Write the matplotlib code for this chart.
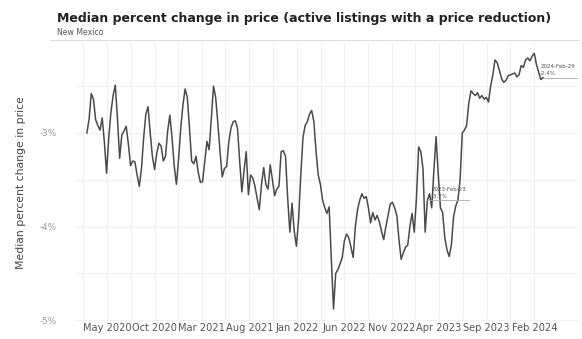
import numpy as np
import pandas as pd
import matplotlib
matplotlib.use("Agg")
import matplotlib.pyplot as plt
import matplotlib.dates as mdates
from matplotlib.ticker import FixedLocator, FuncFormatter

# --- dane (tygodniowe, czwartki) ---
start_date = "2020-02-27"
pct_change = [
    -3.00, -2.85, -2.58, -2.64, -2.86, -2.92, -2.97, -2.84, -3.10, -3.43,
    -3.05, -2.78, -2.60, -2.49, -2.85, -3.27, -3.02, -2.98, -2.93, -3.12,
    -3.35, -3.30, -3.31, -3.45, -3.57, -3.38, -3.05, -2.80, -2.72, -3.00,
    -3.25, -3.39, -3.22, -3.11, -3.14, -3.30, -3.25, -2.98, -2.81, -3.05,
    -3.35, -3.55, -3.28, -2.95, -2.70, -2.53, -2.62, -2.95, -3.30, -3.33,
    -3.25, -3.42, -3.53, -3.52, -3.30, -3.09, -3.18, -2.85, -2.50, -2.62,
    -2.90, -3.20, -3.47, -3.38, -3.36, -3.10, -2.95, -2.88, -2.87, -2.95,
    -3.30, -3.63, -3.40, -3.20, -3.66, -3.45, -3.48, -3.57, -3.70, -3.82,
    -3.55, -3.37, -3.55, -3.60, -3.34, -3.50, -3.67, -3.60, -3.57, -3.20,
    -3.19, -3.25, -3.70, -4.06, -3.75, -4.05, -4.21, -3.92, -3.45, -3.05,
    -2.92, -2.88, -2.80, -2.76, -2.88, -3.20, -3.45, -3.55, -3.72, -3.80,
    -3.86, -3.79, -4.35, -4.88, -4.50, -4.46, -4.40, -4.33, -4.15, -4.08,
    -4.12, -4.22, -4.33, -4.00, -3.82, -3.72, -3.65, -3.70, -3.68, -3.80,
    -3.96, -3.85, -3.93, -3.88, -3.95, -4.05, -4.14, -4.00, -3.88, -3.76,
    -3.74, -3.80, -3.88, -4.14, -4.35, -4.28, -4.22, -4.20, -4.00, -3.86,
    -4.06, -3.70, -3.15, -3.20, -3.38, -4.06, -3.72, -3.65, -3.80, -3.40,
    -3.04, -3.45, -3.80, -3.85, -4.12, -4.25, -4.32, -4.20, -3.90, -3.78,
    -3.72, -3.50, -3.00, -2.97, -2.92, -2.68, -2.55, -2.58, -2.60, -2.57,
    -2.63, -2.60, -2.64, -2.62, -2.67, -2.50, -2.38, -2.22, -2.25, -2.33,
    -2.42, -2.46, -2.44, -2.39, -2.38, -2.37, -2.36, -2.40, -2.38, -2.28,
    -2.30, -2.22, -2.20, -2.23, -2.18, -2.15, -2.27, -2.35, -2.43, -2.41,
]
dates = pd.date_range(start_date, periods=len(pct_change), freq="7D")

tick_dates = ["2020-05-01", "2020-10-01", "2021-03-01", "2021-08-01", "2022-01-01",
              "2022-06-01", "2022-11-01", "2023-04-01", "2023-09-01", "2024-02-01"]
tick_labels = ["May 2020", "Oct 2020", "Mar 2021", "Aug 2021", "Jan 2022",
               "Jun 2022", "Nov 2022", "Apr 2023", "Sep 2023", "Feb 2024"]
y_ticks = [-3, -4, -5]
marked = ["2023-02-23", "2024-02-29"]

# --- wykres ---
fig = plt.figure(figsize=(5.82, 3.39), dpi=100)
ax = fig.add_axes([0.129, 0.050, 0.864, 0.823])

ax.plot(dates, pct_change, color="#4a4a4a", linewidth=1.1)

ax.set_xlim(pd.Timestamp("2020-01-20"), pd.Timestamp("2024-06-20"))
ax.set_ylim(-5.02, -2.04)

tick_nums = mdates.date2num(pd.to_datetime(tick_dates))
ax.xaxis.set_major_locator(FixedLocator(tick_nums))
ax.set_xticklabels(tick_labels)
mid = np.concatenate([[tick_nums[0] - 76], (tick_nums[:-1] + tick_nums[1:]) / 2])
ax.xaxis.set_minor_locator(FixedLocator(mid))

ax.yaxis.set_major_locator(FixedLocator(y_ticks))
ax.yaxis.set_major_formatter(FuncFormatter(lambda v, p: f"{v:.0f}%"))
ax.yaxis.set_minor_locator(FixedLocator([-2.5, -3.5, -4.5]))

ax.grid(True, which="both", color="#f1f1f1", linewidth=0.8)
ax.set_axisbelow(True)
for s in ax.spines.values():
    s.set_visible(False)
ax.tick_params(which="both", length=0)
ax.tick_params(axis="x", labelsize=7.1, colors="#555555", pad=1)
ax.tick_params(axis="y", labelsize=6.3, colors="#999999", pad=13)

ax.set_ylabel("Median percent change in price", fontsize=7.8, color="#444444", labelpad=10)

# --- etykiety punktów ---
offsets = [(3, 1), (-2, 1)]
for d, off in zip(marked, offsets):
    ts = pd.Timestamp(d)
    v = pct_change[list(dates).index(ts)]
    ax.plot([ts, ts + pd.Timedelta(days=135)], [v, v], color="#aaaaaa", linewidth=0.6)
    ax.annotate(f"{ts.strftime('%Y-%b-%d')}\n{v:.1f}%", (ts, v), xytext=off,
                textcoords="offset points", fontsize=4, color="#555555",
                ha="left", va="bottom", linespacing=1.6)

fig.text(0.098, 0.935, "Median percent change in price (active listings with a price reduction)",
         fontsize=9, fontweight="bold", color="#222222")
fig.text(0.098, 0.898, "New Mexico", fontsize=5.6, color="#555555")
fig.add_artist(plt.Line2D([0.086, 0.995], [0.882, 0.882], color="#dddddd", linewidth=0.8))

fig.savefig("out.png", dpi=100)
